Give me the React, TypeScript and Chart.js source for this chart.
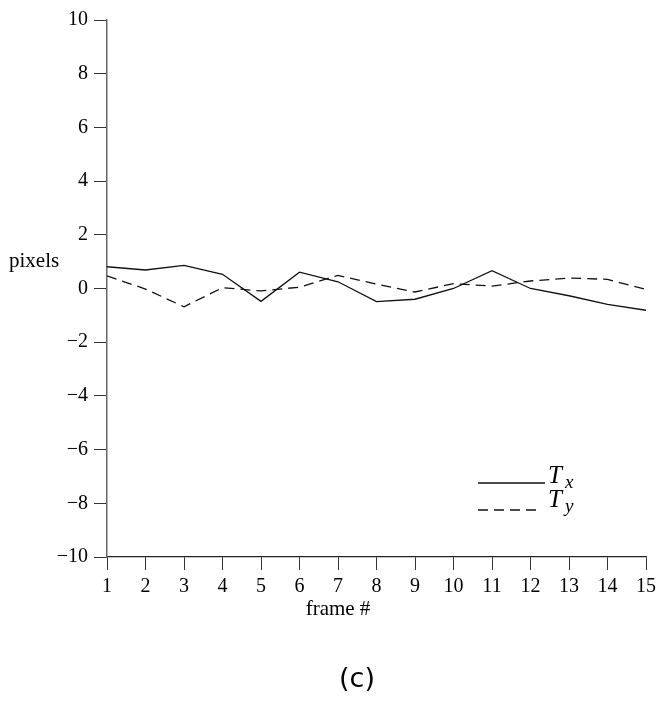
import React, { useEffect, useRef } from "react";
import { Chart, registerables } from "chart.js";

Chart.register(...registerables);

const frames = [1, 2, 3, 4, 5, 6, 7, 8, 9, 10, 11, 12, 13, 14, 15];
const txValues = [0.81, 0.69, 0.86, 0.53, -0.48, 0.61, 0.25, -0.49, -0.4, 0.0, 0.66, 0.0, -0.27, -0.59, -0.81];
const tyValues = [0.47, -0.02, -0.68, 0.03, -0.09, 0.05, 0.49, 0.16, -0.13, 0.18, 0.09, 0.28, 0.39, 0.34, -0.03];
const yTicks = [-10, -8, -6, -4, -2, 0, 2, 4, 6, 8, 10];
const yLabel = "pixels";
const xLabel = "frame #";
const caption = "(c)";
const legendNames = [
  { base: "T", sub: "x" },
  { base: "T", sub: "y" },
];

const SERIF = "'Liberation Serif', 'DejaVu Serif', serif";

const annotate = {
  id: "annotate",
  afterDraw(chart: any) {
    const ctx = chart.ctx;
    const area = chart.chartArea;
    ctx.save();
    ctx.fillStyle = "#000";
    ctx.textBaseline = "alphabetic";
    // y label
    ctx.font = `21px ${SERIF}`;
    ctx.textAlign = "left";
    ctx.fillText(yLabel, 9, 267);
    // x label
    ctx.textAlign = "center";
    ctx.fillText(xLabel, 338, area.bottom + 58);
    // caption
    ctx.font = "27px 'DejaVu Sans', sans-serif";
    ctx.fillText(caption, 357, area.bottom + 130);
    // legend
    const rows = [
      { y: 483, dash: [] as number[], x2: 545, name: legendNames[0], tb: 483, sb: 488 },
      { y: 510, dash: [10, 6], x2: 541, name: legendNames[1], tb: 507, sb: 512 },
    ];
    rows.forEach((r, i) => {
      const ds = chart.data.datasets[i];
      ctx.strokeStyle = ds.borderColor;
      ctx.lineWidth = ds.borderWidth;
      ctx.setLineDash(r.dash);
      ctx.beginPath();
      ctx.moveTo(478, r.y);
      ctx.lineTo(r.x2, r.y);
      ctx.stroke();
      ctx.setLineDash([]);
      ctx.textAlign = "left";
      ctx.font = `italic 25px ${SERIF}`;
      ctx.fillText(r.name.base, 548, r.tb);
      ctx.font = `italic 19px ${SERIF}`;
      ctx.fillText(r.name.sub, 565, r.sb);
    });
    ctx.restore();
  },
};

export default function App() {
  const ref = useRef<HTMLCanvasElement>(null);
  useEffect(() => {
    if (!ref.current) return;
    const chart = new Chart(ref.current, {
      type: "line",
      data: {
        datasets: [
          {
            label: "Tx",
            data: frames.map((f, i) => ({ x: f, y: txValues[i] })),
            borderColor: "#111",
            borderWidth: 1.3,
            pointRadius: 0,
            fill: false,
            tension: 0,
          },
          {
            label: "Ty",
            data: frames.map((f, i) => ({ x: f, y: tyValues[i] })),
            borderColor: "#111",
            borderWidth: 1.3,
            borderDash: [10, 6],
            pointRadius: 0,
            fill: false,
            tension: 0,
          },
        ],
      },
      options: {
        animation: false,
        responsive: false,
        maintainAspectRatio: false,
        layout: { padding: { left: 0, right: 11, top: 20, bottom: 0 } },
        plugins: { legend: { display: false }, tooltip: { enabled: false } },
        scales: {
          x: {
            type: "linear",
            min: 1,
            max: 15,
            afterFit: (s: any) => {
              s.height = 145;
              s.paddingRight = 0;
            },
            afterBuildTicks: (s: any) => {
              s.ticks = frames.map((v) => ({ value: v }));
            },
            ticks: {
              color: "#000",
              font: { family: SERIF, size: 20 },
              padding: 5,
              maxRotation: 0,
              autoSkip: false,
            },
            grid: {
              display: true,
              drawOnChartArea: false,
              drawTicks: true,
              tickLength: 13,
              color: "#333",
              lineWidth: 1,
            },
            border: { display: true, color: "#222", width: 1.3 },
          },
          y: {
            type: "linear",
            min: -10,
            max: 10,
            afterFit: (s: any) => {
              s.width = 107;
            },
            afterBuildTicks: (s: any) => {
              s.ticks = yTicks.map((v) => ({ value: v }));
            },
            ticks: {
              color: "#000",
              font: { family: SERIF, size: 20 },
              padding: 6,
              autoSkip: false,
              callback: (v: any) => (Number(v) < 0 ? "\u2212" + Math.abs(Number(v)) : String(v)),
            },
            grid: {
              display: true,
              drawOnChartArea: false,
              drawTicks: true,
              tickLength: 13,
              color: "#333",
              lineWidth: 1,
            },
            border: { display: true, color: "#666", width: 1.5 },
          },
        },
      },
      plugins: [annotate],
    });
    return () => chart.destroy();
  }, []);
  return (
    <div style={{ position: "fixed", left: 0, top: 0, width: 657, height: 702, background: "#fff" }}>
      <canvas ref={ref} width={657} height={702} style={{ width: 657, height: 702, display: "block" }} />
    </div>
  );
}
